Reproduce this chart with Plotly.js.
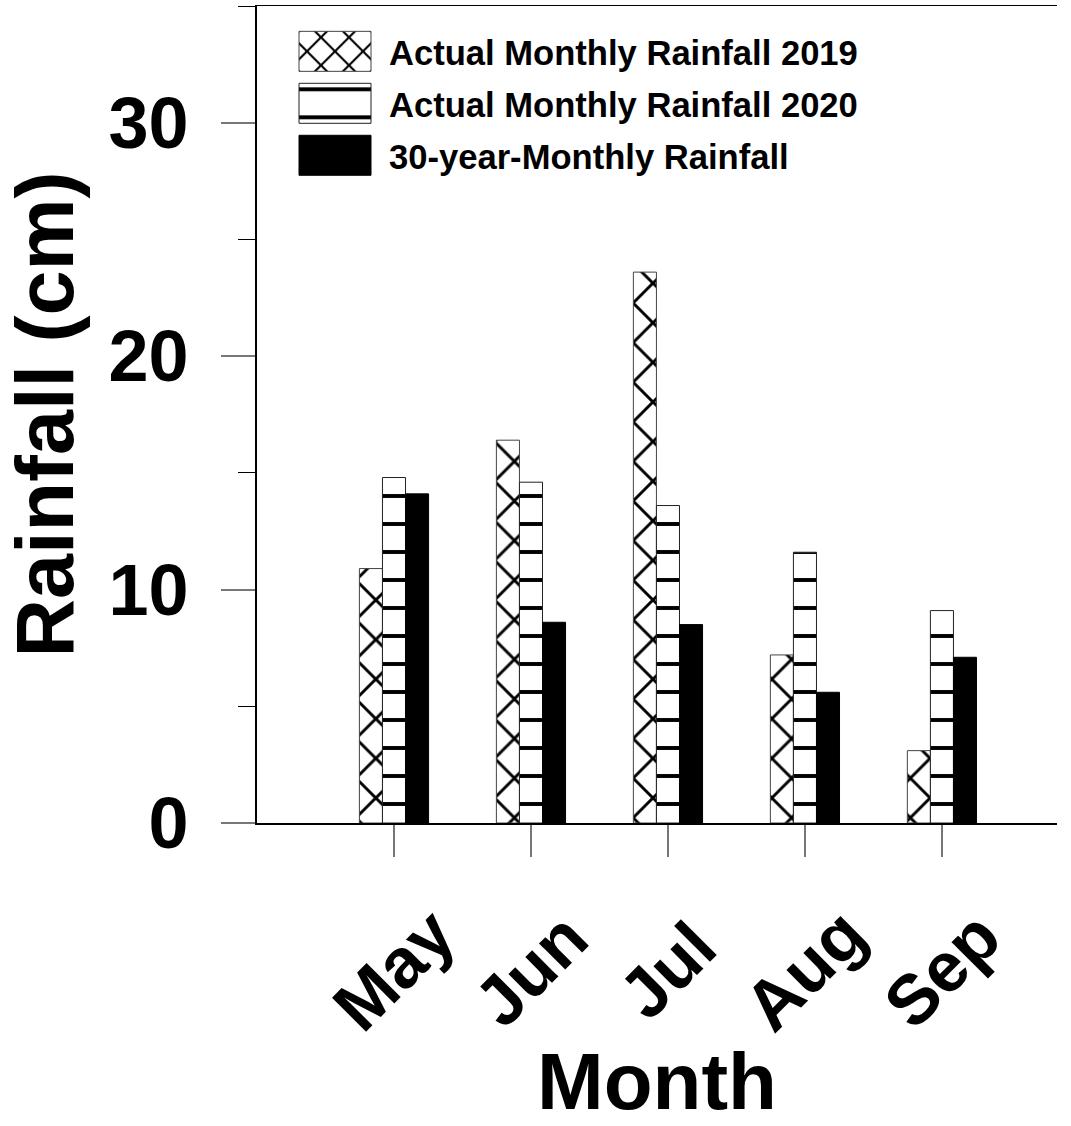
<!DOCTYPE html>
<html>
<head>
<meta charset="utf-8">
<script src="https://cdn.plot.ly/plotly-3.0.1.min.js"></script>
<style>html,body{margin:0;padding:0;background:#fff;}#chart{width:1071px;height:1126px;}</style>
</head>
<body>
<div id="chart"></div>
<script>
const months = ["May", "Jun", "Jul", "Aug", "Sep"];
const seriesNames = ["Actual Monthly Rainfall 2019", "Actual Monthly Rainfall 2020", "30-year-Monthly Rainfall"];
const rain2019 = [10.9, 16.4, 23.6, 7.2, 3.1];
const rain2020 = [14.8, 14.6, 13.6, 11.6, 9.1];
const rain30yr = [14.1, 8.6, 8.5, 5.6, 7.1];
const yTicks = [0, 10, 20, 30];

const FONT = "Liberation Sans, Arial, Helvetica, sans-serif";

const traces = [
  {type: "bar", name: seriesNames[0], legendgroup: "a", x: months, y: rain2019,
   marker: {color: "white", line: {color: "#444", width: 1},
            pattern: {shape: "x", fgcolor: "black", bgcolor: "white", size: 28, solidity: 0.2}}},
  {type: "bar", name: seriesNames[1], legendgroup: "b", x: months, y: rain2020,
   marker: {color: "white", line: {color: "#222", width: 1},
            pattern: {shape: "-", fgcolor: "black", bgcolor: "white", size: 28, solidity: 0.14}}},
  {type: "bar", name: seriesNames[2], legendgroup: "c", x: months, y: rain30yr,
   marker: {color: "black", line: {color: "black", width: 1}}}
];

const annotations = months.map(m => ({
  x: m, xref: "x", y: -0.18, yref: "paper",
  text: "<b>" + m + "</b>", showarrow: false, textangle: -45,
  xanchor: "center", yanchor: "middle",
  font: {family: FONT, size: 70, color: "black"}
}));

const layout = {
  width: 1071, height: 1126,
  margin: {l: 257, r: 14, t: 6, b: 303},
  paper_bgcolor: "white", plot_bgcolor: "white",
  barmode: "group", bargap: 0.495, bargroupgap: 0,
  showlegend: true,
  legend: {x: 0.03, y: 0.98, xanchor: "left", yanchor: "top", traceorder: "grouped", tracegroupgap: 4,
           bgcolor: "rgba(0,0,0,0)", itemwidth: 98,
           font: {family: FONT, size: 34.6, color: "black", weight: "bold"}},
  xaxis: {type: "category", range: [-1, 4.84], showline: true, linecolor: "black", linewidth: 1.5,
          mirror: true, ticks: "outside", ticklen: 32, tickcolor: "#777", tickwidth: 1.5,
          showticklabels: false, showgrid: false, zeroline: false,
          title: {text: "<b>Month</b>", font: {family: FONT, size: 80, color: "black"}, standoff: 209}},
  yaxis: {range: [0, 35], tickvals: yTicks, ticktext: yTicks.map(v => "<b>" + v + "</b>"),
          showline: true, linecolor: "black", linewidth: 2, ticks: "outside", ticklen: 34,
          tickcolor: "#777", tickwidth: 2, ticklabelstandoff: 18,
          tickfont: {family: FONT, size: 72, color: "black"},
          minor: {dtick: 5, ticks: "outside", ticklen: 17, tickcolor: "black", tickwidth: 1},
          showgrid: false, zeroline: false,
          title: {text: "<b>Rainfall (cm)</b>", font: {family: FONT, size: 81, color: "black"}, standoff: 24}},
  annotations: annotations
};

Plotly.newPlot("chart", traces, layout, {displayModeBar: false, staticPlot: true}).then(gd => {
  gd.querySelectorAll(".legend .legendpoints path").forEach(p => {
    p.setAttribute("d", "M36,20H-36V-20H36Z");
    const fill = p.style.fill || p.getAttribute("fill") || "";
    const m = fill.match(/url\(["']?#([^"')]+)["']?\)/);
    if (m) {
      const pat = document.getElementById(m[1]);
      if (pat) {
        const w = parseFloat(pat.getAttribute("width")) || 10;
        const s = 28 / w;
        pat.setAttribute("patternTransform", "scale(" + s + ")");
      }
    }
  });
});
</script>
</body>
</html>
